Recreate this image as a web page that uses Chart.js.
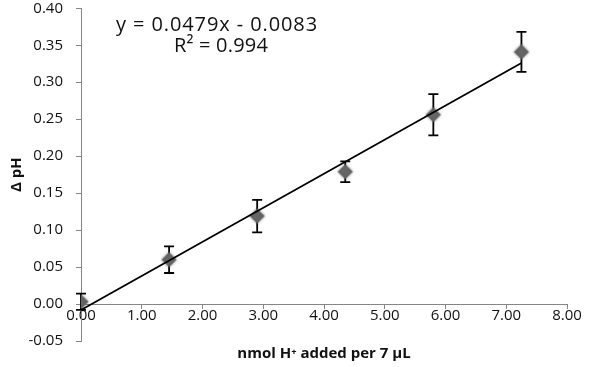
<!DOCTYPE html>
<html>
<head>
<meta charset="utf-8">
<script src="https://cdn.jsdelivr.net/npm/chart.js@4/dist/chart.umd.min.js"></script>
<style>
  html, body { margin: 0; padding: 0; background: #fff; }
  #wrap { width: 600px; height: 367px; position: relative; }
  canvas { display: block; }
</style>
</head>
<body>
<div id="wrap"><canvas id="c" width="600" height="367"></canvas></div>
<script>
// ---- data ----
const nmolAdded = [0, 1.45, 2.9, 4.35, 5.8, 7.25];
const deltaPH   = [0.003, 0.060, 0.119, 0.179, 0.256, 0.341];
const phError   = [0.011, 0.018, 0.022, 0.014, 0.028, 0.027];
const trendX    = [0, 7.25];
const trendY    = [-0.008, 0.326];
const equationLines = ['y = 0.0479x - 0.0083', 'R² = 0.994'];
const xAxisTitle = 'nmol H⁺ added per 7 µL';
const yAxisTitle = 'Δ pH';

const AXIS = '#868686';
const FONT = "'Open Sans', 'Liberation Sans', sans-serif";

const errorBars = {
  id: 'errorBars',
  beforeDatasetsDraw(chart) {
    const xs = chart.scales.x, ys = chart.scales.y;
    const ctx = chart.ctx;
    ctx.save();
    ctx.strokeStyle = '#000';
    ctx.lineWidth = 1.8;
    nmolAdded.forEach((xv, i) => {
      const px = xs.getPixelForValue(xv);
      const top = ys.getPixelForValue(deltaPH[i] + phError[i]);
      const bot = ys.getPixelForValue(deltaPH[i] - phError[i]);
      ctx.beginPath();
      ctx.moveTo(px, top); ctx.lineTo(px, bot);
      ctx.moveTo(px - 5, top); ctx.lineTo(px + 5, top);
      ctx.moveTo(px - 5, bot); ctx.lineTo(px + 5, bot);
      ctx.stroke();
    });
    ctx.restore();
  }
};

const equationText = {
  id: 'equationText',
  afterDraw(chart) {
    const ctx = chart.ctx;
    ctx.save();
    ctx.fillStyle = '#111';
    ctx.font = "20px " + FONT;
    ctx.textAlign = 'center';
    ctx.textBaseline = 'middle';
    try { ctx.letterSpacing = '0.9px'; } catch (e) {}
    ctx.fillText(equationLines[0], 217, 25);
    try { ctx.letterSpacing = '0.2px'; } catch (e) {}
    ctx.fillText(equationLines[1], 221, 46);
    ctx.restore();
  }
};

const softShadow = {
  id: 'softShadow',
  beforeDatasetDraw(chart, args) {
    if (args.index === 1) {
      chart.ctx.save();
      chart.ctx.shadowColor = 'rgba(80,80,80,0.6)';
      chart.ctx.shadowBlur = 3;
    }
  },
  afterDatasetDraw(chart, args) {
    if (args.index === 1) chart.ctx.restore();
  }
};

new Chart(document.getElementById('c'), {
  type: 'scatter',
  data: {
    datasets: [
      {
        label: 'trend',
        data: trendX.map((x, i) => ({ x, y: trendY[i] })),
        showLine: true,
        borderColor: '#000',
        borderWidth: 1.8,
        pointRadius: 0,
        fill: false
      },
      {
        label: 'ΔpH',
        data: nmolAdded.map((x, i) => ({ x, y: deltaPH[i] })),
        pointStyle: 'rectRot',
        pointRadius: 6.8,
        backgroundColor: '#666666',
        borderColor: 'rgba(100,100,100,0.55)',
        borderWidth: 1.5
      }
    ]
  },
  options: {
    responsive: false,
    maintainAspectRatio: false,
    animation: false,
    devicePixelRatio: 1,
    layout: { padding: { top: 7, right: 33, bottom: 0, left: 0 } },
    plugins: {
      legend: { display: false },
      tooltip: { enabled: false },
      title: {
        display: true,
        position: 'bottom',
        fullSize: false,
        text: xAxisTitle,
        color: '#111',
        font: { family: FONT, size: 15, weight: 'bold', lineHeight: 1.2 },
        padding: { top: 4, bottom: 4 }
      }
    },
    scales: {
      x: {
        type: 'linear',
        position: { y: 0 },
        min: 0, max: 8,
        ticks: {
          stepSize: 1,
          color: '#111',
          padding: 0,
          font: { family: FONT, size: 15, lineHeight: 1.0 },
          callback: v => Number(v).toFixed(2),
          maxRotation: 0
        },
        grid: { drawOnChartArea: false, drawTicks: true, tickLength: 4, color: AXIS },
        border: { color: AXIS, width: 1 }
      },
      y: {
        type: 'linear',
        position: 'left',
        min: -0.05, max: 0.40,
        ticks: {
          stepSize: 0.05,
          autoSkip: false,
          color: '#111',
          padding: 13,
          font: { family: FONT, size: 15 },
          callback: v => Number(v).toFixed(2)
        },
        grid: { drawOnChartArea: false, drawTicks: true, tickLength: 5, color: AXIS },
        border: { color: AXIS, width: 1 },
        title: {
          display: true,
          text: yAxisTitle,
          color: '#111',
          font: { family: FONT, size: 15, weight: 'bold', lineHeight: 1.2 },
          padding: { top: 8, bottom: 0 }
        },
        afterFit(scale) {
          scale.width = 81;
          scale.paddingTop = 0;
          scale.paddingBottom = 0;
        }
      }
    }
  },
  plugins: [errorBars, equationText, softShadow]
});
</script>
</body>
</html>
